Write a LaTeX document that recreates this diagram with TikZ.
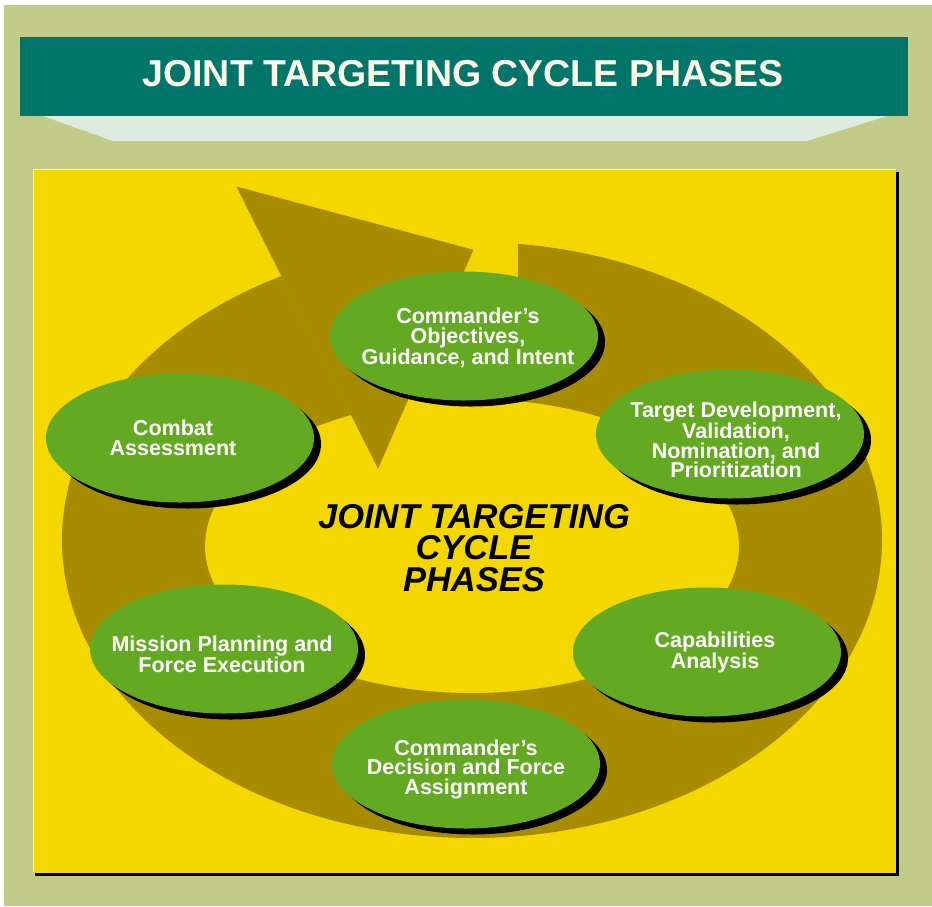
\documentclass[tikz,border=0pt]{standalone}
\usepackage{fontspec}
\setmainfont{Liberation Sans}
\usetikzlibrary{shadows,shapes.geometric}
\definecolor{olivebg}{HTML}{C1CA87}
\definecolor{tealbar}{HTML}{02756A}
\definecolor{titletext}{HTML}{FAFAE6}
\definecolor{paleband}{HTML}{DEECE0}
\definecolor{panelyellow}{HTML}{F5D700}
\definecolor{ringbrown}{HTML}{A88C00}
\definecolor{phasegreen}{HTML}{64A922}
\begin{document}
\begin{tikzpicture}[x=1pt,y=-1pt,
  phase/.style={ellipse, fill=phasegreen, minimum width=268pt, minimum height=129pt, inner sep=0pt,
    drop shadow={shadow xshift=7pt, shadow yshift=-6pt, fill=black, opacity=1}},
  phasetext/.style={text=white, align=center, font=\bfseries\fontsize{21.5}{19.5}\selectfont, inner sep=0pt},
  centretext/.style={text=black, align=center, font=\bfseries\itshape\fontsize{34.5}{31.5}\selectfont, inner sep=0pt},
  titlestyle/.style={text=titletext, font=\bfseries\fontsize{37.5}{40}\selectfont, inner sep=0pt, anchor=base}
]
\useasboundingbox (0,0) rectangle (932,906);
\fill[white] (0,0) rectangle (932,906);
\fill[olivebg] (4,5) rectangle (932,906);
% title bar
\fill[tealbar] (20,37) rectangle (908,116);
\fill[paleband] (43,116) -- (887,116) -- (807,141) -- (113,141) -- cycle;
\node[titlestyle] (title) at (463,86) {JOINT TARGETING CYCLE PHASES};
% panel
\fill[black] (35,172) rectangle (898.5,876);
\fill[panelyellow] (33,169) rectangle (896,872.5);
\draw[white, line width=1pt] (33.5,872) -- (33.5,169.5) -- (896,169.5);
% ring
\begin{scope}
\clip (20,160) -- (223,160) -- (390,492) -- (518,492) -- (518,160) -- (912,160) -- (912,890) -- (20,890) -- cycle;
\fill[ringbrown, even odd rule] (472,540) ellipse [x radius=410pt, y radius=298pt]
  (472,546) ellipse [x radius=267pt, y radius=147pt];
\end{scope}
\filldraw[ringbrown, line width=0.6pt, line join=miter] (237,187) -- (473,250) -- (378,468) -- cycle;
% phases
\node[phase] (obj) at (464,336) {};
\node[phasetext] (objT) at (468,338) {Commander’s\\Objectives,\\Guidance, and Intent};
\node[phase] (tgt) at (730,434) {};
\node[phasetext] (tgtT) at (736,440) {Target Development,\\Validation,\\Nomination, and\\Prioritization};
\node[phase] (cap) at (707,652) {};
\node[phasetext] (capT) at (715,652) {Capabilities\\Analysis};
\node[phase] (dec) at (466,764) {};
\node[phasetext] (decT) at (466,769) {Commander’s\\Decision and Force\\Assignment};
\node[phase] (msn) at (224,649) {};
\node[phasetext] (msnT) at (222,654) {Mission Planning and\\Force Execution};
\node[phase] (ca) at (180,438) {};
\node[phasetext] (caT) at (173,438) {Combat\\Assessment};
% centre
\node[centretext] (centre) at (474,548) {JOINT TARGETING\\CYCLE\\PHASES};
\end{tikzpicture}
\end{document}
